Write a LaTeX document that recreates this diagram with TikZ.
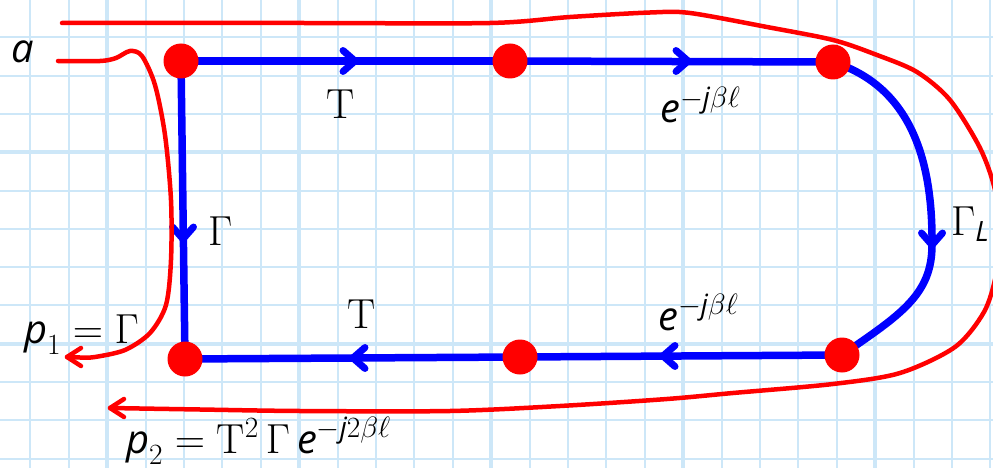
\RequirePackage{fix-cm}
\documentclass[tikz,border=0pt]{standalone}
\usepackage{amsmath}
\usepackage{fontspec}
\newfontfamily\hf{Open Sans}[Scale=0.95]
\newcommand{\hv}[1]{\text{\hf\itshape #1}}
\definecolor{gridc}{RGB}{205,231,248}
\tikzset{
  bl/.style={draw=blue,line width=7.5pt},
  rl/.style={draw=red,line width=4.5pt,line cap=round},
  bv/.pic={\draw[blue,line width=7pt,line cap=round,line join=round] (-12pt,-10.5pt) -- (0pt,0pt) -- (-12pt,10.5pt);},
  rv/.pic={\draw[red,line width=4.5pt,line cap=round,line join=round] (-14pt,-9pt) -- (0pt,0pt) -- (-14pt,9pt);},
  dot/.style={circle,fill=red,minimum size=35pt,inner sep=0pt},
  lab/.style={font=\fontsize{42}{50}\selectfont,inner sep=0pt},
  thin grid/.style={draw=gridc,line width=2pt},
  thick grid/.style={draw=gridc,line width=4pt}
}
\begin{document}
\begin{tikzpicture}[x=1pt,y=-1pt]
\useasboundingbox (0,0) rectangle (993,468);
\fill[white] (0,0) rectangle (993,468);
% grid
\foreach \i in {0,...,25} \draw[thin grid] ({30.4+38.4*\i},0) -- ({30.4+38.4*\i},468);
\foreach \j in {0,...,12} \draw[thin grid] (0,{-1+38.3*\j}) -- (993,{-1+38.3*\j});
\foreach \x in {107.2,299.2,491.2,683.2,875.2} \draw[thick grid] (\x,0) -- (\x,468);
\foreach \y in {152.2,343.7} \draw[thick grid] (0,\y) -- (993,\y);
% coordinates
\coordinate (n1) at (181,61);
\coordinate (n2) at (510,61);
\coordinate (n3) at (833,62);
\coordinate (rm) at (932,245);
\coordinate (n4) at (842,355);
\coordinate (n5) at (520,357);
\coordinate (n6) at (185,359);
\coordinate (ain) at (62,23);
\coordinate (aout) at (110,408);
\coordinate (bin) at (58,61);
\coordinate (bout) at (67,357);
% arrow tip positions
\coordinate (t1) at (355,61);
\coordinate (t2) at (688,61);
\coordinate (t3) at (663,356);
\coordinate (t4) at (353,358);
\coordinate (t5) at (183,239);
% blue flow graph
\draw[bl] (n1) -- (n2);
\draw[bl] (n2) -- (n3);
\draw[bl] (n3) .. controls (905,85) and (933,150) .. (rm);
\draw[bl] (rm) .. controls (932,295) and (900,315) .. (n4);
\draw[bl] (n4) -- (n5);
\draw[bl] (n5) -- (n6);
\draw[bl] (n1) -- (n6);
\pic at (t1) {bv};
\pic at (t2) {bv};
\pic[rotate=180] at (t3) {bv};
\pic[rotate=180] at (t4) {bv};
\pic[rotate=-90] at (t5) {bv};
\pic[rotate=-90] at (rm) {bv};
% red paths
\draw[rl] plot[smooth,tension=0.5] coordinates {(ain) (300,23) (490,23) (570,17) (650,12.5) (690,13) (767,27) (833,40) (877,55) (917,72) (950,100) (980,148) (995,190) (1000,235) (996,275) (984,312) (955,347) (900,373) (833,384) (733,393) (667,399) (560,406) (450,411) (300,411) (200,409.5) (aout)};
\draw[rl] plot[smooth,tension=0.5] coordinates {(bin) (100,61) (116,58) (130,51) (142,56) (155,85) (165,135) (171,200) (171,260) (166,305) (150,333) (125,350) (95,357) (80,357.5) (bout)};
\pic[rotate=180] at (aout) {rv};
\pic[rotate=180] at (bout) {rv};
% dots
\foreach \n in {n1,n2,n3,n4,n5,n6} \node[dot] (d\n) at (\n) {};
% labels
\node[lab,anchor=base west] (la) at (11,63) {\hf\itshape a};
\node[lab,anchor=base] (lT1) at (341,119) {T};
\node[lab,anchor=base west] (le1) at (660,123) {$\hv{e}^{-\hv{j}\beta\ell}$};
\node[lab,anchor=base west] (lG) at (208,245) {$\Gamma$};
\node[lab,anchor=base west] (lGL) at (951,235) {$\Gamma_{\hv{L}}$};
\node[lab,anchor=base] (lT2) at (362,328) {T};
\node[lab,anchor=base west] (le2) at (658,330) {$\hv{e}^{-\hv{j}\beta\ell}$};
\node[lab,anchor=base west] (lp1) at (24,343) {$\hv{p}_1=\Gamma$};
\node[lab,anchor=base west] (lp2) at (126,453) {$\hv{p}_2=\mathrm{T}^{2}\,\Gamma\,\hv{e}^{-\hv{j}2\beta\ell}$};
\end{tikzpicture}
\end{document}
